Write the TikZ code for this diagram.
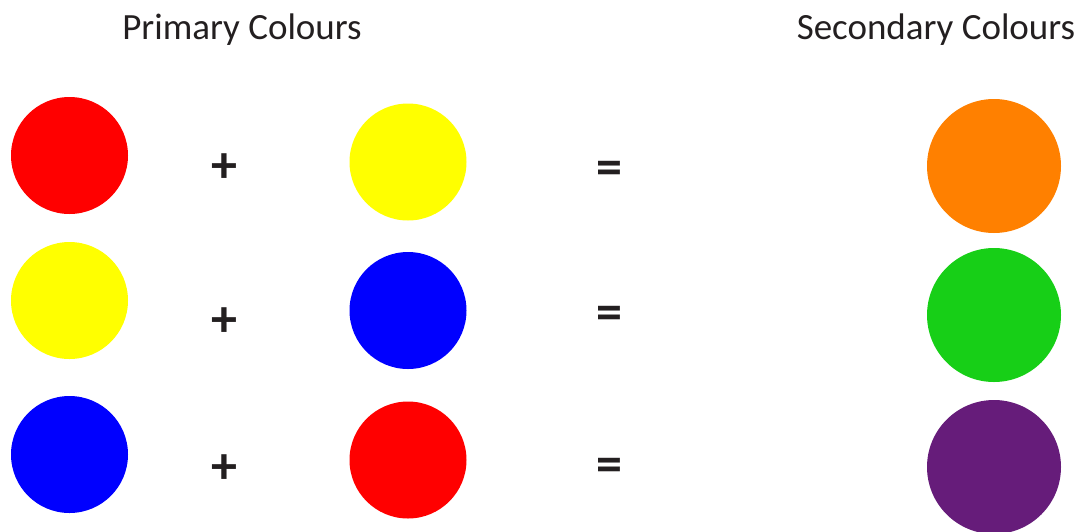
\documentclass[tikz,border=0pt]{standalone}
\usepackage{fontspec}
\setmainfont{Carlito}
\definecolor{cred}{HTML}{FF0000}
\definecolor{cyellow}{HTML}{FFFF00}
\definecolor{cblue}{HTML}{0000FF}
\definecolor{corange}{HTML}{FF8000}
\definecolor{cgreen}{HTML}{17CF17}
\definecolor{cpurple}{HTML}{661C7A}
\definecolor{ink}{HTML}{231F20}
\begin{document}
\begin{tikzpicture}[x=1pt,y=-1pt,
  dot/.style={circle,inner sep=0pt,minimum size=117pt,draw=none},
  bigdot/.style={circle,inner sep=0pt,minimum size=134pt,draw=none},
  title/.style={font=\fontsize{37}{42}\selectfont,text=ink,inner sep=0pt},
  op/.style={font=\fontsize{52}{60}\selectfont\bfseries,text=ink,inner sep=0pt}]
\path[use as bounding box] (0,0) rectangle (1080,531);
\begin{scope}
\clip (0,0) rectangle (1080,531);
\node[title] (t1) at (242,30) {Primary Colours};
\node[title] (t2) at (936,30) {Secondary Colours};
% row 1
\node[dot,fill=cred] (a1) at (69.5,155.5) {};
\node[op] (p1) at (224.5,168) {+};
\node[dot,fill=cyellow] (b1) at (408,162) {};
\node[op] (e1) at (609,173) {=};
\node[bigdot,fill=corange] (c1) at (994,166) {};
% row 2
\node[dot,fill=cyellow] (a2) at (69.5,300.5) {};
\node[op] (p2) at (224.5,322) {+};
\node[dot,fill=cblue] (b2) at (408,310.5) {};
\node[op] (e2) at (609,318) {=};
\node[bigdot,fill=cgreen] (c2) at (994,315) {};
% row 3
\node[dot,fill=cblue] (a3) at (69.5,454.5) {};
\node[op] (p3) at (224.5,469) {+};
\node[dot,fill=cred] (b3) at (408,460) {};
\node[op] (e3) at (609,470) {=};
\node[bigdot,fill=cpurple] (c3) at (994,467) {};
\end{scope}
\end{tikzpicture}
\end{document}
